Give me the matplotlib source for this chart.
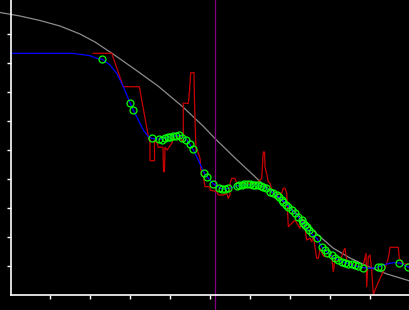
import matplotlib
matplotlib.use("Agg")
import matplotlib.pyplot as plt

# reference curve (grey)
ref_x = [0, 20, 40, 60, 80, 95, 113, 133, 158, 183, 203, 215, 235, 250, 267, 285, 300, 317,
         333, 350, 367, 387, 410]
ref_y = [282.5, 279, 274.5, 269, 261, 253, 241, 227, 209, 188, 169, 156.5, 137, 123, 107, 92,
         78, 61, 47, 37, 29, 21, 14]

# smoothed series (blue)
smooth_x = [10.7, 72, 80, 90, 96.7, 102.3, 110, 116.7, 123.3, 130, 133.3, 138.3, 143.3, 148.3,
            152.3, 160, 166.7, 173.3, 179.3, 186.7, 192.7, 198.3, 204.3, 207.3, 213.3, 220,
            223.3, 230, 236.7, 243.3, 250, 256.7, 263.3, 268.3, 276.7, 283.3, 288.3, 293.3,
            298.3, 303.3, 308.3, 311.7, 316.7, 321.7, 326.7, 333.3, 340, 346.7, 353.3, 363.3,
            370, 376.7, 380, 386.7, 393.3, 400, 408.3]
smooth_y = [241.7, 241.7, 240.7, 239.3, 236.7, 235.7, 230, 221.7, 208.3, 192.3, 185, 175, 165, 158.3,
            156.5, 155.7, 157.3, 159, 159.7, 155, 146.3, 135, 121.7, 118, 111, 107,
            106, 106.7, 109, 110.3, 110.3, 110, 108.3, 105.7, 100, 94.5, 88.3, 83.3,
            78.3, 71, 65, 61, 56.7, 48.3, 43.3, 37.7, 34, 32, 29.5, 27.5,
            26.5, 27.7, 28.5, 31, 32.3, 32, 28]

# sampled points (green circles)
pts_x = [102.3, 130.2, 133.3, 152.3, 158.8, 161.7, 165.3, 167.7, 170, 173.5, 176, 179.5, 182.3,
         186.5, 190.3, 192.7, 204.2, 206.8, 213.3, 219.3, 222.3, 225, 227.7, 236.7, 239.3,
         241.7, 244.3, 246.7, 250, 252.7, 255.3, 258.3, 261, 263.3, 266, 270, 273.3, 276.7,
         279.3, 281.7, 283.3, 286, 288.3, 291.7, 295, 298.3, 301.7, 303.3, 305, 306.7, 309.3,
         311.7, 316.7, 322, 325, 326.7, 331.7, 335, 338.3, 341.7, 345, 348.3, 351.7, 355,
         358.3, 363.3, 378.3, 380.7, 399.3, 408.3]
pts_y = [235.7, 192.5, 185, 156.7, 156, 155.5, 157, 158, 158.3, 159.5, 159.3, 160, 157.3,
         155, 151.5, 146.3, 121.7, 118.5, 111, 107.3, 106, 106.3, 106.7, 109, 109.7,
         110.3, 110.7, 110.7, 110.7, 110.3, 110, 109.7, 109, 108.3, 107.3, 103.3, 101.7, 100,
         98.3, 95, 93.3, 90, 88.3, 85, 81.7, 78.3, 75, 71.7, 70, 67.7, 65,
         61.7, 56.7, 48.5, 45, 42.3, 40, 36.7, 35, 33.3, 32.3, 31, 30.7, 30,
         29.3, 27.5, 28.3, 28.3, 31.7, 28]

# raw series (red)
raw_x = [93.3, 111.7, 123.3, 139.3, 149, 150, 150, 154.5, 154.5, 157, 158.3, 163, 163.5, 164.5,
         165, 167, 172, 173.3, 180, 182.3, 183.3, 183.3, 188.3, 189.3, 190, 190.7, 194, 194.3,
         195, 196, 197.3, 200, 201, 201.7, 203.3, 205, 210, 210, 216.7, 218.3, 223.3, 226.7,
         228.3, 230, 230, 231.7, 235, 236.7, 256.7, 261.7, 262.7, 263.3, 264.5, 265, 267.3,
         268.3, 270, 271.7, 276.7, 281.7, 283.3, 285, 286.7, 288.3, 291.7, 295, 300, 301.7,
         305, 306.7, 310, 311.7, 313.3, 316.7, 318.3, 319.3, 320, 323.3, 328.3, 331.7, 333.3,
         335, 340, 341.7, 343.3, 345, 346.7, 350, 353.3, 360, 363.3, 366, 366.7, 368.3, 370,
         371.7, 373.3, 375, 380, 385, 388.3, 390, 398.3, 399.3, 403.3, 410]
raw_y = [241.7, 241.7, 208.3, 208.3, 155, 155, 134.3, 134.3, 155, 152.3, 147.7, 147.7, 123.3, 123.3,
         147.7, 145, 152, 160, 158.3, 153.3, 153.3, 191.7, 191.7, 201.7, 211.7, 222.3, 222.3, 201.7,
         175, 145, 145, 136.7, 125, 120, 118.3, 108.3, 108.3, 105, 103.3, 100, 100, 101.7,
         96.7, 100, 111.7, 116.7, 116.7, 111.7, 111.7, 116.7, 133.3, 143, 143, 128.3, 118.3,
         113.3, 111.7, 105, 101.7, 101.7, 106.7, 106.7, 101.7, 68.3, 71.7, 75, 66.7, 75,
         66.7, 55, 56.7, 53.3, 59, 36.7, 36.7, 41.7, 46.7, 39, 38.3, 39, 23.3,
         35, 35, 38.3, 43.3, 46.7, 35, 31.7, 30, 28.3, 30, 41.7, 8.3, 38.3, 40,
         25, 0, 5, 16.7, 26.7, 36.7, 47.7, 47.7, 36.7, 31, 31]

marker_x = 215.3
x_ticks = [50.5, 90.5, 130.5, 170.5, 210.5, 250.5, 290.5, 330.5, 370.5]
y_ticks = [29, 58, 87, 116, 145, 174, 203, 232, 261]

fig = plt.figure(figsize=(4.1, 3.1), dpi=100, facecolor='black')
ax = fig.add_axes([0, 0, 1, 1], facecolor='black')

ax.plot(ref_x, ref_y, color='#8c8c8c', lw=0.9)
ax.axvline(marker_x, color='#800080', lw=0.9)
ax.plot(raw_x, raw_y, color='#c80000', lw=0.9)
ax.plot(smooth_x, smooth_y, color='#0000ff', lw=0.9)
ax.plot(pts_x, pts_y, 'o', mfc='none', mec='#00ff00', ms=5, mew=0.9)

ax.set_xlim(0, 410)
ax.set_ylim(-15, 295)

for s in ['top', 'right']:
    ax.spines[s].set_visible(False)
ax.spines['left'].set_position(('data', 10.7))
ax.spines['bottom'].set_position(('data', 0))
ax.spines['left'].set_bounds(0, 295)
ax.spines['bottom'].set_bounds(10.7, 410)
for s in ['left', 'bottom']:
    ax.spines[s].set_color('white')
    ax.spines[s].set_linewidth(1.2)

ax.set_xticks(x_ticks)
ax.set_yticks(y_ticks)
ax.tick_params(colors='white', direction='out', length=3, width=1.0,
               labelleft=False, labelbottom=False)

fig.savefig('out.png', dpi=100, facecolor='black')
